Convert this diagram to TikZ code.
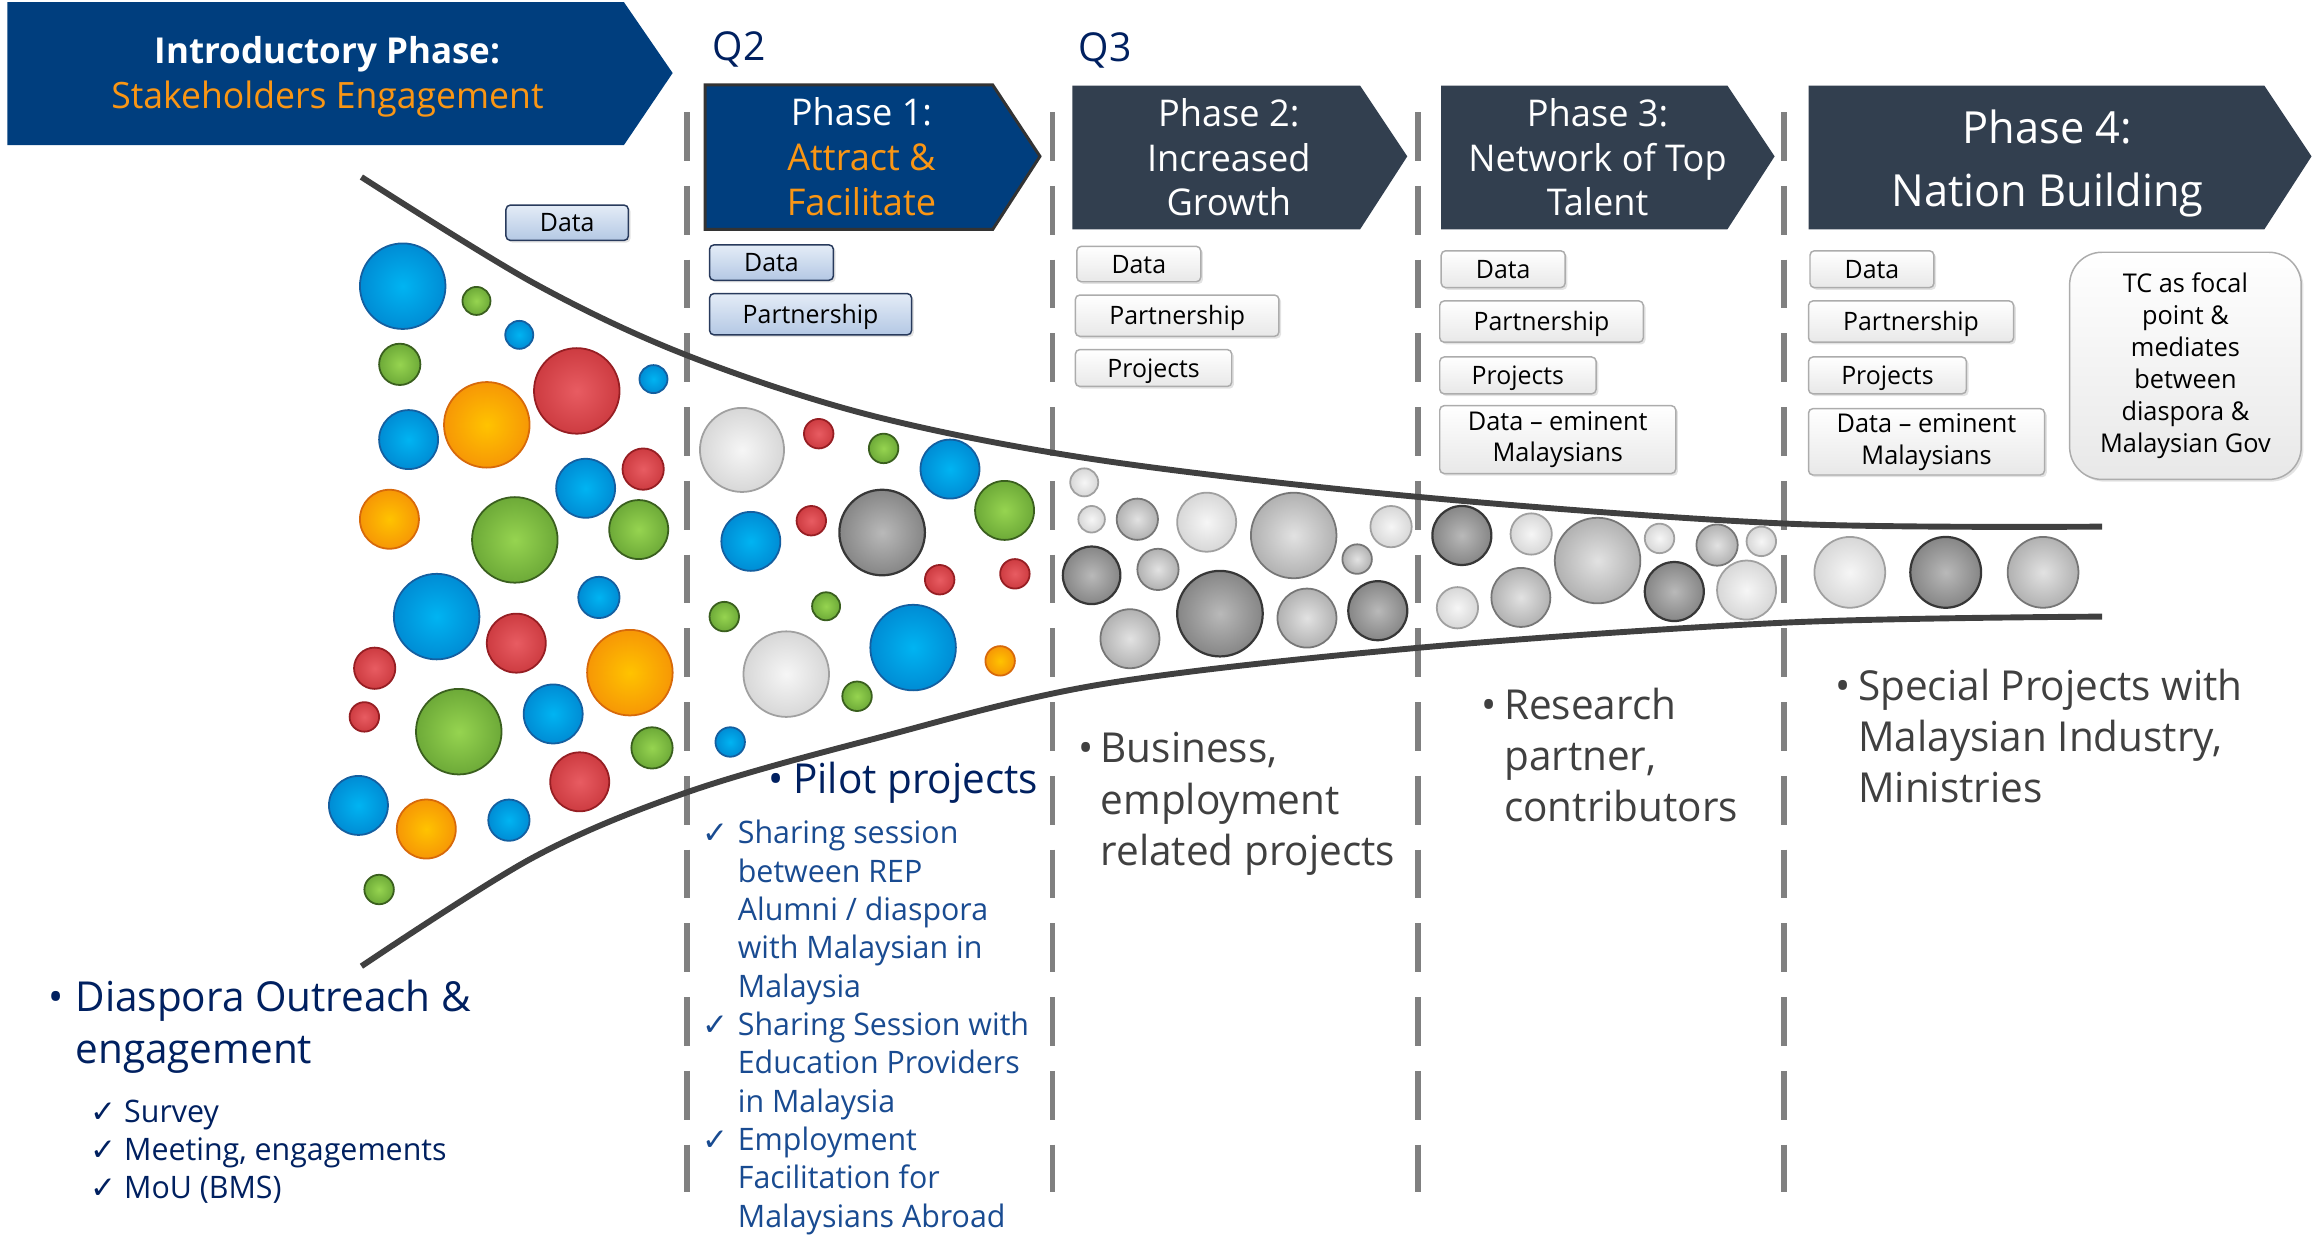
\documentclass[tikz,border=0pt]{standalone}
\usepackage{fontspec}
\usetikzlibrary{shadows}
\setmainfont{Open Sans}[FakeStretch=0.98]
\newfontfamily\symf{DejaVu Sans}
\definecolor{introblue}{RGB}{0,62,126}
\definecolor{slate}{RGB}{50,63,79}
\definecolor{orangetxt}{RGB}{250,150,20}
\definecolor{navy}{RGB}{0,32,96}
\definecolor{chkblue}{RGB}{25,75,145}
\definecolor{greytxt}{RGB}{64,64,64}
\definecolor{dashgrey}{RGB}{128,128,128}
\definecolor{curvegrey}{RGB}{64,64,64}
\definecolor{btnnavy}{RGB}{40,58,92}
\definecolor{btntop}{RGB}{228,236,247}
\definecolor{btnbot}{RGB}{180,200,228}
% bubble colours
\definecolor{bluein}{RGB}{0,180,242}\definecolor{blueout}{RGB}{0,110,190}\definecolor{blueedge}{RGB}{20,95,160}
\definecolor{greenin}{RGB}{150,212,80}\definecolor{greenout}{RGB}{78,138,38}\definecolor{greenedge}{RGB}{58,95,30}
\definecolor{redin}{RGB}{232,92,98}\definecolor{redout}{RGB}{185,35,40}\definecolor{rededge}{RGB}{150,30,35}
\definecolor{orin}{RGB}{255,195,0}\definecolor{orout}{RGB}{240,118,10}\definecolor{oredge}{RGB}{215,105,10}
\definecolor{lgin}{RGB}{246,246,246}\definecolor{lgout}{RGB}{192,192,192}\definecolor{lgedge}{RGB}{160,160,160}
\definecolor{mgin}{RGB}{226,226,226}\definecolor{mgout}{RGB}{140,140,140}\definecolor{mgedge}{RGB}{118,118,118}
\definecolor{dgin}{RGB}{185,185,185}\definecolor{dgout}{RGB}{95,95,95}\definecolor{dgedge}{RGB}{55,55,55}
\pgfdeclareradialshading{sblue}{\pgfpoint{0bp}{0bp}}{color(0bp)=(bluein); color(44bp)=(blueout); color(50bp)=(blueout)}
\pgfdeclareradialshading{sgreen}{\pgfpoint{0bp}{0bp}}{color(0bp)=(greenin); color(44bp)=(greenout); color(50bp)=(greenout)}
\pgfdeclareradialshading{sred}{\pgfpoint{0bp}{0bp}}{color(0bp)=(redin); color(44bp)=(redout); color(50bp)=(redout)}
\pgfdeclareradialshading{sorange}{\pgfpoint{0bp}{0bp}}{color(0bp)=(orin); color(44bp)=(orout); color(50bp)=(orout)}
\pgfdeclareradialshading{slg}{\pgfpoint{0bp}{0bp}}{color(0bp)=(lgin); color(44bp)=(lgout); color(50bp)=(lgout)}
\pgfdeclareradialshading{smg}{\pgfpoint{0bp}{0bp}}{color(0bp)=(mgin); color(44bp)=(mgout); color(50bp)=(mgout)}
\pgfdeclareradialshading{sdg}{\pgfpoint{0bp}{0bp}}{color(0bp)=(dgin); color(44bp)=(dgout); color(50bp)=(dgout)}
\tikzset{
  bblue/.style={shading=sblue, draw=blueedge, line width=1.2pt},
  bgreen/.style={shading=sgreen, draw=greenedge, line width=1.2pt},
  bred/.style={shading=sred, draw=rededge, line width=1.2pt},
  borange/.style={shading=sorange, draw=oredge, line width=1.2pt},
  blg/.style={shading=slg, draw=lgedge, line width=1.2pt},
  bmg/.style={shading=smg, draw=mgedge, line width=1.2pt},
  bdg/.style={shading=sdg, draw=dgedge, line width=1.5pt},
  btn/.style={rounded corners=3pt, line width=1pt, inner sep=0pt, text height=12.3pt, text depth=0pt,
    font=\fontsize{17.2}{21.5}\selectfont,
    drop shadow={shadow xshift=1.5pt, shadow yshift=-1.5pt, opacity=0.22}},
  bbtn/.style={btn, draw=btnnavy, top color=btntop, bottom color=btnbot},
  gbtn/.style={btn, draw=gray!65, top color=white, bottom color=gray!18},
  phasetxt/.style={anchor=base, text=white, inner sep=0pt, font=\fontsize{25}{30}\selectfont},
  qlab/.style={anchor=base west, text=navy, inner sep=0pt, font=\fontsize{27}{32}\selectfont},
  bigtxt/.style={anchor=base west, inner sep=0pt, font=\fontsize{28}{34}\selectfont},
  chktxt/.style={anchor=base west, inner sep=0pt, font=\fontsize{21}{26}\selectfont},
  funnel/.style={draw=curvegrey, line width=4pt},
  dashln/.style={draw=dashgrey, line width=4pt, dash pattern=on 33pt off 17pt},
}
\begin{document}
\begin{tikzpicture}[x=1pt,y=-1pt]
\useasboundingbox (0,0) rectangle (1568,837.2);
% phase arrows
\fill[introblue] (5,1.5) -- (423,1.5) -- (456,49.5) -- (423,98.3) -- (5,98.3) -- cycle;
\filldraw[fill=introblue, draw=black!80, line width=2pt] (478,57.6) -- (673,57.6) -- (705,106) -- (673,155.5) -- (478,155.5) -- cycle;
\fill[slate] (727,58) -- (922,58) -- (954,106) -- (922,155.5) -- (727,155.5) -- cycle;
\fill[slate] (977,58) -- (1171,58) -- (1203,106) -- (1171,155.5) -- (977,155.5) -- cycle;
\fill[slate] (1226,58) -- (1535,58) -- (1567,106) -- (1535,155.5) -- (1226,155.5) -- cycle;
% phase texts
\node[phasetxt, font=\bfseries\fontsize{24.2}{30}\selectfont] (ia) at (222,43) {Introductory Phase:};
\node[phasetxt, text=orangetxt, font=\fontsize{24.6}{30}\selectfont] (ib) at (222,73.4) {Stakeholders Engagement};
\node[qlab] (q2) at (483,40.7) {Q2};
\node[qlab] (q3) at (731,41.8) {Q3};
\node[phasetxt] (p1a) at (584,85.4) {Phase 1:};
\node[phasetxt, text=orangetxt] (p1b) at (584,115.6) {Attract \&};
\node[phasetxt, text=orangetxt] (p1c) at (584,145.8) {Facilitate};
\node[phasetxt] (p2a) at (833,86) {Phase 2:};
\node[phasetxt] (p2b) at (833,116) {Increased};
\node[phasetxt] (p2c) at (833,146) {Growth};
\node[phasetxt] (p3a) at (1083,86) {Phase 3:};
\node[phasetxt] (p3b) at (1083,116) {Network of Top};
\node[phasetxt] (p3c) at (1083,146) {Talent};
\node[phasetxt, font=\fontsize{30}{36}\selectfont] (p4a) at (1388,97.5) {Phase 4:};
\node[phasetxt, font=\fontsize{30}{36}\selectfont] (p4b) at (1388,140) {Nation Building};
% dashed separators
\foreach \x [count=\i] in {466,713.5,961.5,1209.5}
  \draw[dashln] (\x,76) -- (\x,808);
% funnel
\draw[funnel] plot[smooth, tension=0.55] coordinates {(245,120) (362,192) (466,241) (592,282) (746,312) (963,337) (1212,355) (1425,357)};
\draw[funnel] plot[smooth, tension=0.55] coordinates {(245,655) (362,581) (466,537) (592,501) (746,464) (963,439) (1212,422) (1425,418)};
% bubbles
\foreach \x/\y/\r in {273/194/29,352/227/9.5,443/257/9.5,277/298/20,397/331/20,406/405/14,296/418/29,375/484/20,243/546/20,345/556/14,644/318/20,509/367/20,619/439/29,495/503/10}
  \shadedraw[bblue] (\x,\y) circle[radius=\r pt];
\foreach \x/\y/\r in {323/204/9.5,271/247/14,349/366/29,433/359/20,311/496/29,442/507/14,257/603/10,599/304/10,681/346/20,491/418/10,560/411/9.5,581/472/10}
  \shadedraw[bgreen] (\x,\y) circle[radius=\r pt];
\foreach \x/\y/\r in {391/265/29,436/318/14,350/436/20,254/453/14,247/486/10,393/530/20,555/294/10,550/353/10,637/393/10,688/389/10}
  \shadedraw[bred] (\x,\y) circle[radius=\r pt];
\foreach \x/\y/\r in {330/288/29,264/352/20,427/456/29,289/562/20,678/448/10}
  \shadedraw[borange] (\x,\y) circle[radius=\r pt];
\foreach \x/\y/\r in {503/305/28.5,533/457/29,735/327/9.5,740/352/9,818/354/20,943/357/14,1038/362/14,1125/365/10,1194/367/10,988/412/14,1184/400/20,1254/388/24}
  \shadedraw[blg] (\x,\y) circle[radius=\r pt];
\foreach \x/\y/\r in {771/352/14,877/363/29,785/386/14,920/379/10,766/433/20,886/419/20,1083/380/29,1164/369.5/14,1031/405/20,1385/388/24}
  \shadedraw[bmg] (\x,\y) circle[radius=\r pt];
\foreach \x/\y/\r in {598/361/29,740/390/19.5,827/416/29,934/414/20,991/363/20,1135/401/20,1319/388/24}
  \shadedraw[bdg] (\x,\y) circle[radius=\r pt];
% buttons
\node[bbtn, minimum width=83pt, minimum height=24pt] (d0) at (384.5,151) {Data};
\node[bbtn, minimum width=84pt, minimum height=24pt] (d1) at (523,178) {Data};
\node[bbtn, minimum width=137pt, minimum height=28pt] (pa1) at (549.5,213) {Partnership};
\node[gbtn, minimum width=84pt, minimum height=24pt] (d2) at (772,179) {Data};
\node[gbtn, minimum width=138pt, minimum height=28pt] (pa2) at (798,214) {Partnership};
\node[gbtn, minimum width=106pt, minimum height=25pt] (pr2) at (782,249.5) {Projects};
\node[gbtn, minimum width=84pt, minimum height=25pt] (d3) at (1019,182.5) {Data};
\node[gbtn, minimum width=138pt, minimum height=28pt] (pa3) at (1045,218) {Partnership};
\node[gbtn, minimum width=106pt, minimum height=25pt] (pr3) at (1029,254.5) {Projects};
\node[gbtn, minimum width=160pt, minimum height=46pt, align=center, text height=, text depth=, font=\fontsize{17.5}{21.5}\selectfont] (e3) at (1056,298) {Data – eminent\\Malaysians};
\node[gbtn, minimum width=84pt, minimum height=25pt] (d4) at (1269,182.5) {Data};
\node[gbtn, minimum width=139pt, minimum height=28pt] (pa4) at (1295.5,218) {Partnership};
\node[gbtn, minimum width=107pt, minimum height=25pt] (pr4) at (1279.5,254.5) {Projects};
\node[gbtn, minimum width=160pt, minimum height=45pt, align=center, text height=, text depth=, font=\fontsize{17.5}{21.5}\selectfont] (e4) at (1306,299.5) {Data – eminent\\Malaysians};
\node[gbtn, rounded corners=22pt, minimum width=157pt, minimum height=154pt, align=center, text height=, text depth=, font=\fontsize{17.5}{21.7}\selectfont] (tc) at (1481.5,248) {TC as focal\\point \&\\mediates\\between\\diaspora \&\\Malaysian Gov};
% bottom texts
\node[bigtxt, text=navy] (lb) at (33,686) {•};
\node[bigtxt, text=navy] (l1) at (51,686) {Diaspora Outreach \&};
\node[bigtxt, text=navy] (l2) at (51,721) {engagement};
\foreach \yy/\t [count=\i] in {761/Survey,786.5/{Meeting, engagements},812.5/{MoU (BMS)}}{
  \node[chktxt, text=navy] (lc\i) at (61,\yy) {\symf ✓};
  \node[chktxt, text=navy] (lt\i) at (84,\yy) {\t};
}
\node[bigtxt, text=navy] (pb) at (521,538) {•};
\node[bigtxt, text=navy] (pp) at (537.5,538) {Pilot projects};
\foreach \yy/\t [count=\i] in {572/{Sharing session},598/{between REP},624/{Alumni / diaspora},650/{with Malaysian in},676/{Malaysia},702/{Sharing Session with},728/{Education Providers},754/{in Malaysia},780/{Employment},806/{Facilitation for},832/{Malaysians Abroad}}
  \node[chktxt, text=chkblue] (s\i) at (500,\yy) {\t};
\foreach \yy [count=\i] in {572,702,780}
  \node[chktxt, text=chkblue] (sc\i) at (476,\yy) {\symf ✓};
\node[bigtxt, text=greytxt] (bb) at (731,517) {•};
\node[bigtxt, text=greytxt] (b1) at (746,517) {Business,};
\node[bigtxt, text=greytxt] (b2) at (746,552) {employment};
\node[bigtxt, text=greytxt] (b3) at (746,586.5) {related projects};
\node[bigtxt, text=greytxt] (rb) at (1004,488) {•};
\node[bigtxt, text=greytxt] (r1) at (1019.5,488) {Research};
\node[bigtxt, text=greytxt] (r2) at (1019.5,522.5) {partner,};
\node[bigtxt, text=greytxt] (r3) at (1019.5,557) {contributors};
\node[bigtxt, text=greytxt] (sb) at (1244,474.6) {•};
\node[bigtxt, text=greytxt] (sp1) at (1259.5,474.6) {Special Projects with};
\node[bigtxt, text=greytxt] (sp2) at (1259.5,509.3) {Malaysian Industry,};
\node[bigtxt, text=greytxt] (sp3) at (1259.5,544) {Ministries};
\end{tikzpicture}
\end{document}
